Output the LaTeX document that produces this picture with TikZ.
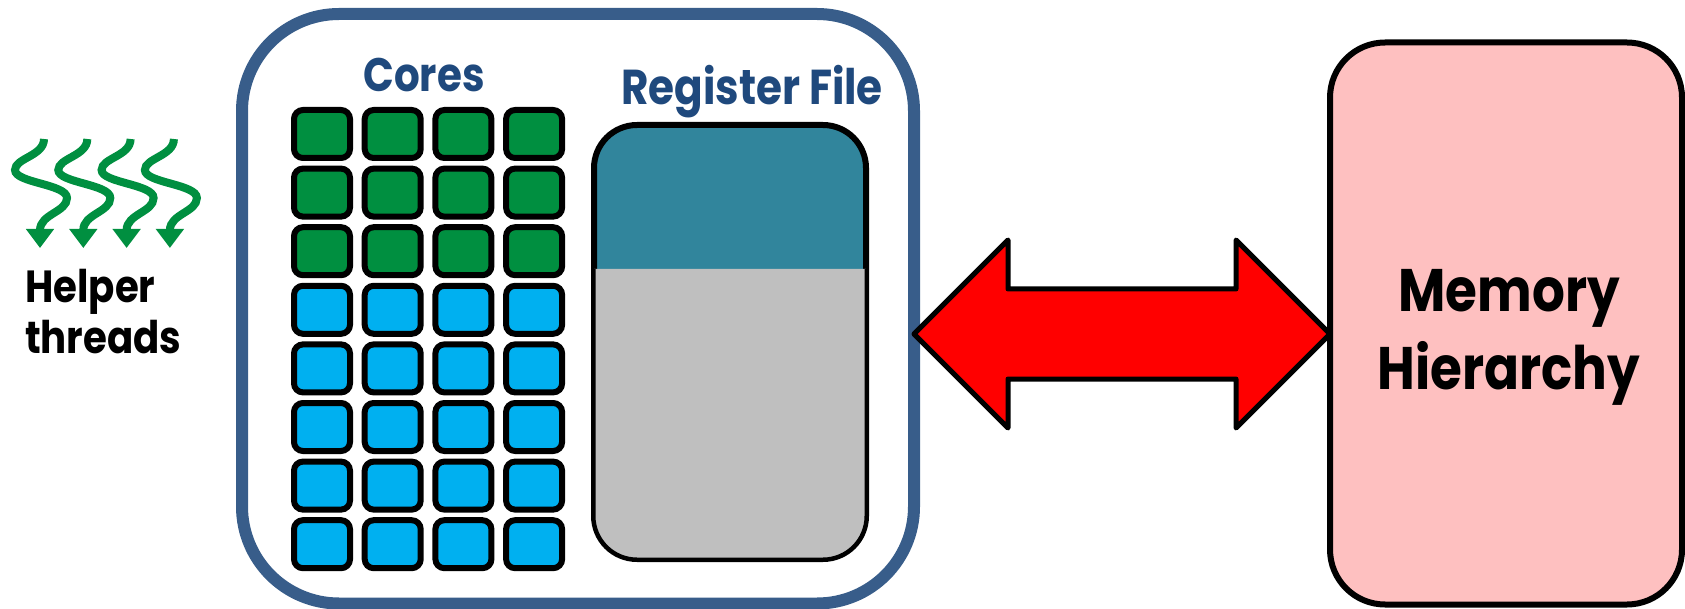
\documentclass[tikz,border=0pt]{standalone}
\usepackage{fontspec}
\newfontfamily\diagfont{Poppins}[FakeStretch=0.86]
\usetikzlibrary{arrows.meta,calc}
\definecolor{frameblue}{RGB}{56,93,138}
\definecolor{titleblue}{RGB}{31,73,125}
\definecolor{coregreen}{RGB}{0,143,64}
\definecolor{coreblue}{RGB}{0,176,240}
\definecolor{regteal}{RGB}{49,133,156}
\definecolor{reggray}{RGB}{191,191,191}
\definecolor{mempink}{RGB}{254,192,192}
\begin{document}
\begin{tikzpicture}[x=1pt,y=-1pt,
  core/.style={draw=black, line width=6pt, rounded corners=9pt,
    minimum width=56pt, minimum height=48pt, inner sep=0pt, outer sep=0pt},
  gpubox/.style={draw=frameblue, line width=12pt, rounded corners=97pt,
    minimum width=672pt, minimum height=589.5pt, inner sep=0pt, outer sep=0pt},
  regbox/.style={draw=black, fill=regteal, line width=6pt, rounded corners=43pt,
    minimum width=272pt, minimum height=434pt, inner sep=0pt, outer sep=0pt},
  membox/.style={draw=black, fill=mempink, line width=6pt, rounded corners=55pt,
    minimum width=352pt, minimum height=562pt, inner sep=0pt, outer sep=0pt},
  bigarrow/.style={draw=black, fill=red, line width=5pt, line join=round},
  thread/.style={draw=coregreen, line width=8pt,
    -{Triangle[width=27pt,length=19pt]}},
  title/.style={anchor=base, text=titleblue, inner sep=0pt,
    font=\diagfont\bfseries\fontsize{47}{47}\selectfont},
  blacklabel/.style={inner sep=0pt, text=black,
    font=\diagfont\bfseries\fontsize{45}{45}\selectfont},
  memlabel/.style={anchor=base, inner sep=0pt, text=black,
    font=\diagfont\bfseries\fontsize{60}{60}\selectfont}
]
\useasboundingbox (0,0) rectangle (1685,609);

% helper threads
\foreach \i in {0,...,3}{
  \begin{scope}[xshift={43.3*\i}]
    \draw[thread] (44,139) .. controls (44,156) and (15,158) .. (15,170)
      .. controls (15,183) and (67,184) .. (67,198)
      .. controls (67,212) and (40,214) .. (40,248);
  \end{scope}
}
\node[blacklabel, anchor=base west] (helper) at (25,302) {Helper};
\node[blacklabel, anchor=base west] (threads) at (25,353) {threads};

% GPU frame
\node[gpubox] (gpu) at (578,308.75) {};
\node[title] (corestitle) at (424,92) {Cores};
\node[title, font=\diagfont\bfseries\fontsize{49}{49}\selectfont] (regtitle) at (752,105) {Register File};

% core grid: three rows of helper cores, five rows of regular cores
\foreach \r in {0,...,7}{
  \ifnum\r<3 \def\cc{coregreen}\else\def\cc{coreblue}\fi
  \foreach \c in {0,...,3}
    \node[core, fill=\cc] (core-\r-\c) at ({322+70.7*\c},{134+58.6*\r}) {};
}

% register file
\node[regbox] (regf) at (730,342) {};
\filldraw[fill=reggray, draw=black, line width=3pt, rounded corners=43pt]
  (regf.west |- 0,269) -- (regf.south west) -- (regf.south east) -- (regf.east |- 0,269);

% memory hierarchy
\node[membox] (mem) at (1506,323.5) {};
\node[memlabel] (memt) at (1509,312) {Memory};
\node[memlabel] (hiert) at (1509,389) {Hierarchy};

% bidirectional transfer arrow
\coordinate (aL) at (gpu.east |- 0,334);
\coordinate (aR) at (mem.west |- 0,334);
\draw[bigarrow] (aL) -- ($(aL)+(94,-94)$) -- ($(aL)+(94,-45)$)
  -- ($(aR)+(-94,-45)$) -- ($(aR)+(-94,-94)$) -- (aR)
  -- ($(aR)+(-94,94)$) -- ($(aR)+(-94,45)$)
  -- ($(aL)+(94,45)$) -- ($(aL)+(94,94)$) -- cycle;
\end{tikzpicture}
\end{document}
